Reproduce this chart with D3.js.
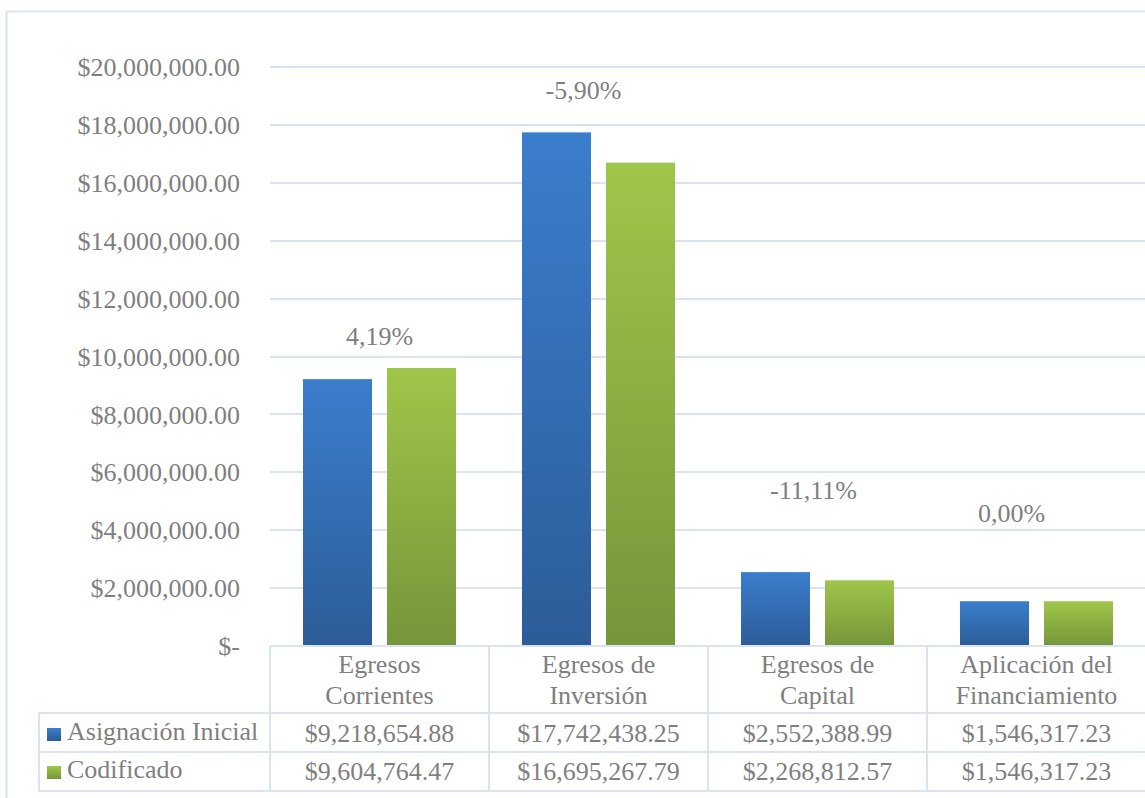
<!DOCTYPE html>
<html>
<head>
<meta charset="utf-8">
<script src="https://cdn.jsdelivr.net/npm/d3@7"></script>
<style>
  html, body { margin: 0; padding: 0; background: #ffffff; }
  svg { display: block; }
</style>
</head>
<body>
<svg id="chart" width="1145" height="798"></svg>
<script>
// ---- data ----
const categories = ["Egresos Corrientes", "Egresos de Inversión", "Egresos de Capital", "Aplicación del Financiamiento"];
const categoryLines = [["Egresos", "Corrientes"], ["Egresos de", "Inversión"], ["Egresos de", "Capital"], ["Aplicación del", "Financiamiento"]];
const seriesNames = ["Asignación Inicial", "Codificado"];
const asignacionInicial = [9218654.88, 17742438.25, 2552388.99, 1546317.23];
const codificado = [9604764.47, 16695267.79, 2268812.57, 1546317.23];
const yTicks = [0, 2e6, 4e6, 6e6, 8e6, 10e6, 12e6, 14e6, 16e6, 18e6, 20e6];

// ---- layout (not data) ----
const W = 1145, H = 798;
const plotLeft = 270, plotRight = 1146, plotTop = 67, plotBottom = 646;
const labelLevels = [10.4e6, 18.9e6, 5.08e6, 4.28e6];   // vertical anchor of the % labels (in axis units)
const labelDx = [0, -15, -4, -25];
const gridColor = "#d9e3f1";
const textColor = "#7f7f7f";
const fontFamily = "'Liberation Serif', Tinos, 'Times New Roman', Times, 'DejaVu Serif', serif";
const fontSize = 26;

const svg = d3.select("#chart")
  .attr("font-family", fontFamily)
  .style("font-family", fontFamily);
const defs = svg.append("defs");
function grad(id, top, bottom) {
  const g = defs.append("linearGradient").attr("id", id).attr("x1", 0).attr("y1", 0).attr("x2", 0).attr("y2", 1);
  g.append("stop").attr("offset", "0%").attr("stop-color", top);
  g.append("stop").attr("offset", "100%").attr("stop-color", bottom);
}
grad("gBlue", "#3b7ecd", "#2c5c98");
grad("gGreen", "#9fc64a", "#76953a");
const fills = ["url(#gBlue)", "url(#gGreen)"];

function txt(sel) {
  return sel.attr("font-family", fontFamily).style("font-family", fontFamily)
    .attr("fill", textColor).attr("font-size", fontSize);
}

// outer border
svg.append("rect").attr("x", 6.5).attr("y", 11.5).attr("width", W + 10).attr("height", H + 10)
  .attr("fill", "none").attr("stroke", gridColor).attr("stroke-width", 2);

const y = d3.scaleLinear().domain([0, 20e6]).range([plotBottom, plotTop]);
const x0 = d3.scaleBand().domain(categories).range([plotLeft, plotRight]).padding(0);
const bw = x0.bandwidth();
const x1 = d3.scaleBand().domain(seriesNames).range([0, bw]).paddingInner(15 / 84).paddingOuter(0.3929);

// gridlines
svg.append("g").selectAll("line").data(yTicks.filter(d => d > 0)).join("line")
  .attr("x1", plotLeft).attr("x2", W + 5)
  .attr("y1", d => Math.round(y(d))).attr("y2", d => Math.round(y(d)))
  .attr("stroke", gridColor).attr("stroke-width", 2);

// y axis labels
const fmtMoney = d3.format("$,.2f");
txt(svg.append("g").selectAll("text").data(yTicks).join("text")
  .attr("x", 240).attr("y", d => y(d)).attr("dy", "0.35em")
  .attr("text-anchor", "end"))
  .text(d => d === 0 ? "$-" : fmtMoney(d));

// bars
const seriesValues = [asignacionInicial, codificado];
const barData = [];
categories.forEach((c, i) => seriesNames.forEach((s, j) => barData.push({ c, s, v: seriesValues[j][i], j })));
svg.append("g").selectAll("rect").data(barData).join("rect")
  .attr("x", d => x0(d.c) + x1(d.s))
  .attr("y", d => y(d.v))
  .attr("width", x1.bandwidth())
  .attr("height", d => y(0) - y(d.v))
  .attr("fill", d => fills[d.j]);

// percentage labels
const pct = categories.map((c, i) => (codificado[i] - asignacionInicial[i]) / asignacionInicial[i] * 100);
txt(svg.append("g").selectAll("text").data(categories).join("text")
  .attr("x", (d, i) => x0(d) + bw / 2 + labelDx[i])
  .attr("y", (d, i) => y(labelLevels[i]))
  .attr("text-anchor", "middle"))
  .text((d, i) => pct[i].toFixed(2).replace(".", ",") + "%");

// data table
const rowTop = plotBottom, headerBottom = 713, row1Bottom = 752, row2Bottom = 791;
const legendLeft = 39;
const tbl = svg.append("g").attr("stroke", gridColor).attr("stroke-width", 2);
tbl.append("line").attr("x1", plotLeft).attr("x2", W + 5).attr("y1", rowTop).attr("y2", rowTop);
[headerBottom, row1Bottom, row2Bottom].forEach(yy =>
  tbl.append("line").attr("x1", legendLeft).attr("x2", W + 5).attr("y1", yy).attr("y2", yy));
categories.forEach(c =>
  tbl.append("line").attr("x1", Math.round(x0(c))).attr("x2", Math.round(x0(c))).attr("y1", rowTop).attr("y2", row2Bottom));
tbl.append("line").attr("x1", legendLeft).attr("x2", legendLeft).attr("y1", headerBottom).attr("y2", row2Bottom);

// header text
categories.forEach((c, i) => {
  categoryLines[i].forEach((ln, k) => {
    txt(svg.append("text").attr("x", x0(c) + bw / 2).attr("y", 673 + k * 31)
      .attr("text-anchor", "middle")).text(ln);
  });
});

// value rows
const rowBaselines = [742, 780];
seriesValues.forEach((vals, j) => {
  txt(svg.append("g").selectAll("text").data(vals).join("text")
    .attr("x", (d, i) => x0(categories[i]) + bw / 2)
    .attr("y", rowBaselines[j])
    .attr("text-anchor", "middle"))
    .text(d => fmtMoney(d));
  // legend key
  svg.append("rect").attr("x", 47).attr("y", rowBaselines[j] - 14).attr("width", 14).attr("height", 13)
    .attr("fill", fills[j]);
  txt(svg.append("text").attr("x", 67).attr("y", rowBaselines[j] - 2)).text(seriesNames[j]);
});
</script>
</body>
</html>
